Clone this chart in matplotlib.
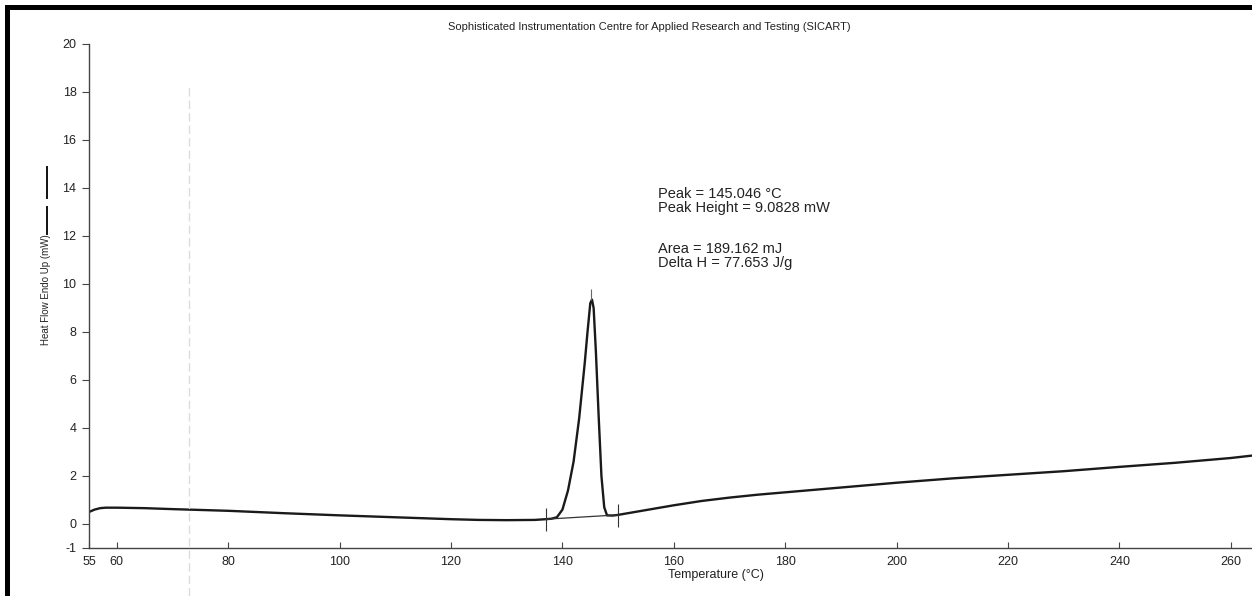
import matplotlib
matplotlib.use("Agg")
import matplotlib.pyplot as plt
from matplotlib.lines import Line2D
from matplotlib.patches import Rectangle

# ---- data ----
temperature = [55, 56, 57, 58, 60, 65, 70, 80, 90, 100, 110, 120, 125, 130, 135,
               137, 138, 139, 140, 141, 142, 143, 144, 144.5, 145, 145.3, 145.6,
               146, 146.5, 147, 147.5, 148, 149, 150, 155, 160, 165, 170, 175,
               180, 190, 200, 210, 220, 230, 240, 250, 260, 263.8]
heat_flow = [0.50, 0.60, 0.66, 0.68, 0.68, 0.66, 0.62, 0.55, 0.45, 0.36, 0.28,
             0.20, 0.17, 0.16, 0.17, 0.20, 0.22, 0.28, 0.60, 1.40, 2.60, 4.40,
             6.70, 8.00, 9.20, 9.35, 9.00, 7.20, 4.50, 2.00, 0.70, 0.36, 0.35,
             0.38, 0.58, 0.78, 0.96, 1.10, 1.22, 1.32, 1.52, 1.72, 1.90, 2.05,
             2.20, 2.38, 2.55, 2.75, 2.85]
baseline_T = [137, 150]
baseline_HF = [0.20, 0.38]
peak_T = 145.2
peak_HF = 9.35

x_ticks = [55, 60, 80, 100, 120, 140, 160, 180, 200, 220, 240, 260]
y_ticks = [-1, 0, 2, 4, 6, 8, 10, 12, 14, 16, 18, 20]

title = "Sophisticated Instrumentation Centre for Applied Research and Testing (SICART)"
annot1 = "Peak = 145.046 \u00b0C\nPeak Height = 9.0828 mW"
annot2 = "Area = 189.162 mJ\nDelta H = 77.653 J/g"

W, H = 1252, 596
plt.rcParams['font.family'] = ['Liberation Sans', 'DejaVu Sans']
plt.rcParams['axes.unicode_minus'] = False
fig = plt.figure(figsize=(W / 100, H / 100), dpi=100)

# axes placement in pixel units
x0, x1 = 89, 1252
y_top, y_bot = 44, 548
ax = fig.add_axes([x0 / W, (H - y_bot) / H, (x1 - x0) / W, (y_bot - y_top) / H])
ax.set_xlim(55, 263.8)
ax.set_ylim(-1, 20)

ax.plot(temperature, heat_flow, color='#1a1a1a', lw=1.7, solid_capstyle='round')
ax.plot(baseline_T, baseline_HF, color='#333333', lw=0.9)
ax.vlines(baseline_T, [v - 0.5 for v in baseline_HF], [v + 0.45 for v in baseline_HF],
          color='#333333', lw=0.8)
ax.vlines([peak_T], [peak_HF], [peak_HF + 0.45], color='#666666', lw=0.8)

for s in ['top', 'right']:
    ax.spines[s].set_visible(False)
for s in ['left', 'bottom']:
    ax.spines[s].set_color('#444444')
    ax.spines[s].set_linewidth(1.0)

ax.set_xticks(x_ticks)
ax.set_yticks(y_ticks)
ax.tick_params(axis='x', direction='in', length=4, width=0.8, colors='#444444',
               labelcolor='#222222', labelsize=9, pad=6)
ax.tick_params(axis='y', direction='out', length=5, width=0.8, colors='#444444',
               labelcolor='#222222', labelsize=9, pad=4)

fig.text(649 / W, 1 - 27 / H, title, fontsize=8.0, color='#222222',
         ha='center', va='center')

fig.text(668 / W, 1 - 575 / H, "Temperature (\u00b0C)", fontsize=9, color='#222222',
         ha='left', va='center')
fig.text(46 / W, 1 - 290 / H, "Heat Flow Endo Up (mW)", fontsize=7.0, color='#222222',
         rotation=90, ha='center', va='center')
fig.add_artist(Line2D([47 / W, 47 / W], [1 - 234 / H, 1 - 207 / H], color='#111111', lw=1.4))
fig.add_artist(Line2D([47 / W, 47 / W], [1 - 198 / H, 1 - 167 / H], color='#111111', lw=1.4))

fig.text(658 / W, 1 - 201 / H, annot1, fontsize=10.5,
         color='#222222', ha='left', va='center', linespacing=1.0)
fig.text(658 / W, 1 - 256 / H, annot2, fontsize=10.5,
         color='#222222', ha='left', va='center', linespacing=1.0)

# scan artefacts: faint fold line and black frame edges
fig.add_artist(Line2D([189 / W, 189 / W], [0, 1 - 85 / H], color='#dcdcdc', lw=1.0,
                      ls=(0, (6, 3))))
fig.add_artist(Rectangle((5 / W, 0), 5 / W, 1 - 5 / H, transform=fig.transFigure,
                         color='black', lw=0))
fig.add_artist(Rectangle((5 / W, 1 - 10 / H), 1 - 5 / W, 5 / H, transform=fig.transFigure,
                         color='black', lw=0))

fig.savefig("out.png", dpi=100)
